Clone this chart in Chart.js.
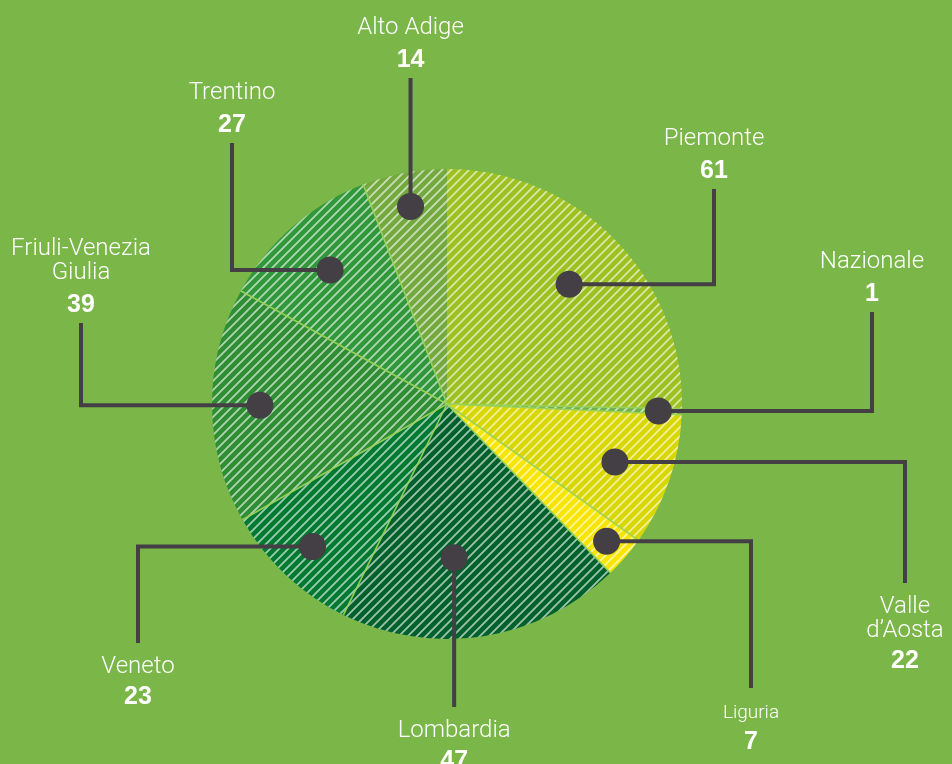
<!DOCTYPE html>
<html>
<head>
<meta charset="utf-8">
<script src="https://cdn.jsdelivr.net/npm/chart.js@4.4.1/dist/chart.umd.min.js"></script>
<style>
html,body{margin:0;padding:0;background:#7ab648;overflow:hidden;}
#wrap{position:relative;width:952px;height:764px;}
canvas{display:block;}
</style>
</head>
<body>
<div id="wrap"><canvas id="c" width="952" height="764"></canvas></div>
<script>
// ---- data ----
const categories = ['Piemonte', 'Nazionale', 'Valle d’Aosta', 'Liguria', 'Lombardia', 'Veneto', 'Friuli-Venezia Giulia', 'Trentino', 'Alto Adige'];
const values = [61, 1, 22, 7, 47, 23, 39, 27, 14];
const labelLines = [['Piemonte'], ['Nazionale'], ['Valle', 'd’Aosta'], ['Liguria'], ['Lombardia'], ['Veneto'], ['Friuli-Venezia', 'Giulia'], ['Trentino'], ['Alto Adige']];

// ---- styles ----
const BG = '#7ab648';
const sliceColors = ['#9dc120', '#6db24a', '#d9d700', '#f8e500', '#00612c', '#007a31', '#2f8e34', '#30983a', '#74a940'];
const LEADER = '#433f44';
const NAME_FONT = '300 24px Roboto, "Liberation Sans", Arial, sans-serif';
const SMALL_FONT = '300 19px Roboto, "Liberation Sans", Arial, sans-serif';
const NUM_FONT = 'bold 25px "Liberation Sans", Arial, sans-serif';

// leader layout (dot radius fraction, elbow x, end y, direction)
const leaders = [
  {r: 0.728, ex: 714, ey: 189, dir: 'up'},
  {r: 0.90,  ex: 872, ey: 312, dir: 'up'},
  {r: 0.756, ex: 905, ey: 583, dir: 'down'},
  {r: 0.896, ex: 751, ey: 688, dir: 'down', small: true},
  {r: 0.655, da: 6.3, ex: null, ey: 707, dir: 'down'},
  {r: 0.834, ex: 138, ey: 643, dir: 'down'},
  {r: 0.796, ex: 81,  ey: 323, dir: 'up'},
  {r: 0.757, ex: 232, ey: 143, dir: 'up'},
  {r: 0.855, ex: null, ey: 78, dir: 'up'}
];

function hatch(color) {
  const s = 9;
  const c = document.createElement('canvas');
  c.width = s; c.height = s;
  const x = c.getContext('2d');
  x.fillStyle = color;
  x.fillRect(0, 0, s, s);
  x.strokeStyle = 'rgba(255,255,255,0.62)';
  x.lineWidth = 1.8;
  x.beginPath();
  x.moveTo(-1, s + 1); x.lineTo(s + 1, -1);
  x.moveTo(-2, 2); x.lineTo(2, -2);
  x.moveTo(s - 2, s + 2); x.lineTo(s + 2, s - 2);
  x.stroke();
  return x.createPattern(c, 'repeat');
}

const overlay = {
  id: 'overlay',
  afterDatasetsDraw(chart) {
    const ctx = chart.ctx;
    const meta = chart.getDatasetMeta(0);
    ctx.save();
    // separators
    ctx.strokeStyle = 'rgba(155,210,90,0.95)';
    ctx.lineWidth = 1.6;
    meta.data.forEach((arc, i) => {
      if (i === 0) return;
      const p = arc.getProps(['x', 'y', 'startAngle', 'outerRadius'], true);
      ctx.beginPath();
      ctx.moveTo(p.x, p.y);
      ctx.lineTo(p.x + Math.cos(p.startAngle) * p.outerRadius, p.y + Math.sin(p.startAngle) * p.outerRadius);
      ctx.stroke();
    });
    // leaders
    meta.data.forEach((arc, i) => {
      const L = leaders[i];
      const p = arc.getProps(['x', 'y', 'startAngle', 'endAngle', 'outerRadius'], true);
      const a = (p.startAngle + p.endAngle) / 2 + (L.da || 0) * Math.PI / 180;
      const dx = p.x + Math.cos(a) * p.outerRadius * L.r;
      const dy = p.y + Math.sin(a) * p.outerRadius * L.r;
      const lx = L.ex === null ? dx : L.ex;
      ctx.strokeStyle = LEADER;
      ctx.lineWidth = 4;
      ctx.lineJoin = 'miter';
      ctx.beginPath();
      ctx.moveTo(dx, dy);
      if (L.ex !== null) ctx.lineTo(lx, dy);
      ctx.lineTo(lx, L.ey);
      ctx.stroke();
      ctx.fillStyle = LEADER;
      ctx.beginPath();
      ctx.arc(dx, dy, 13.5, 0, Math.PI * 2);
      ctx.fill();
      // labels
      ctx.fillStyle = '#ffffff';
      ctx.textAlign = 'center';
      ctx.textBaseline = 'alphabetic';
      const lines = labelLines[i];
      const nameFont = L.small ? SMALL_FONT : NAME_FONT;
      if (L.dir === 'up') {
        ctx.font = NUM_FONT;
        ctx.fillText(String(values[i]), lx, L.ey - 11);
        ctx.font = nameFont;
        for (let k = 0; k < lines.length; k++) {
          const off = 44 + (lines.length - 1 - k) * 24;
          ctx.fillText(lines[k], lx, L.ey - off);
        }
      } else {
        ctx.font = nameFont;
        let y = L.ey + 30;
        for (let k = 0; k < lines.length; k++) {
          ctx.fillText(lines[k], lx, y);
          if (k < lines.length - 1) y += 24;
        }
        ctx.font = NUM_FONT;
        ctx.fillText(String(values[i]), lx, y + 31);
      }
    });
    ctx.restore();
  }
};

new Chart(document.getElementById('c'), {
  type: 'pie',
  data: {
    labels: categories,
    datasets: [{
      data: values,
      backgroundColor: sliceColors.map(hatch),
      borderWidth: 0
    }]
  },
  options: {
    responsive: false,
    animation: false,
    layout: {padding: {left: 212, right: 270, top: 169, bottom: 125}},
    plugins: {legend: {display: false}, tooltip: {enabled: false}}
  },
  plugins: [overlay]
});
</script>
</body>
</html>
